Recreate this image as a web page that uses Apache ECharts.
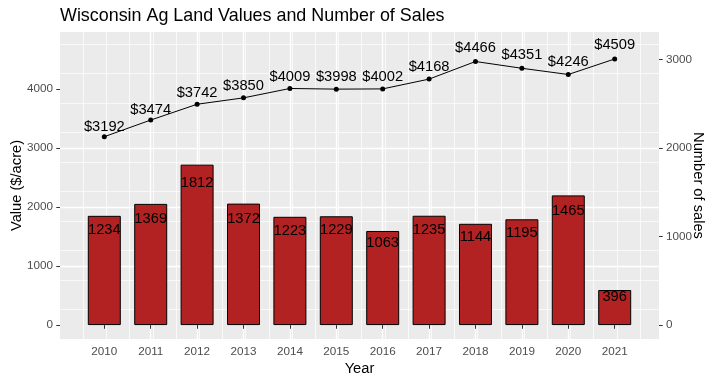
<!DOCTYPE html>
<html><head><meta charset="utf-8">
<script src="https://cdn.jsdelivr.net/npm/echarts@6/dist/echarts.min.js"></script>
<style>html,body{margin:0;padding:0;background:#fff}#c{width:720px;height:384px}</style>
</head><body><div id="c"></div>
<script>
const years = [2010, 2011, 2012, 2013, 2014, 2015, 2016, 2017, 2018, 2019, 2020, 2021];
const valuePerAcre = [3192, 3474, 3742, 3850, 4009, 3998, 4002, 4168, 4466, 4351, 4246, 4509];
const numSales = [1234, 1369, 1812, 1372, 1223, 1229, 1063, 1235, 1144, 1195, 1465, 396];
const leftTicks = [0, 1000, 2000, 3000, 4000];
const rightTicks = [0, 1000, 2000, 3000];

const LMIN = -236, LMAX = 4966, RATIO = 1.5;
const XMIN = 2009.045, XMAX = 2021.955;
const FF = 'Liberation Sans, Arial, sans-serif';

const chart = echarts.init(document.getElementById('c'), null, {renderer: 'canvas'});

const tickStyle = {color: '#333333', width: 1};
const labelStyle = {fontSize: 11.7, color: '#4D4D4D', fontFamily: FF, margin: 7};
const nameStyle = {fontSize: 14.7, color: '#000', fontFamily: FF};
const major = {color: '#ffffff', width: 1.4};
const minor = {color: '#ffffff', width: 0.7};

// label offsets (styling): the source places labels proportionally to the value
const barLabelDist = s => 0.00854 * s - 4.2;
const lineLabelDist = v => 0.00327 * (v - 3192) - 0.7;

chart.setOption({
  animation: false,
  title: {
    text: 'Wisconsin Ag Land Values and Number of Sales',
    left: 60, top: 7, padding: 0,
    textStyle: {fontSize: 17.9, fontWeight: 'normal', color: '#000', fontFamily: FF}
  },
  grid: {left: 60, right: 61, top: 32, bottom: 45, show: true, backgroundColor: '#EBEBEB', borderWidth: 0,
    containLabel: false, outerBoundsMode: 'none'},
  xAxis: [
    {
      type: 'value', min: XMIN, max: XMAX, interval: 1, position: 'bottom',
      name: 'Year', nameLocation: 'middle', nameGap: 22, nameMoveOverlap: false, nameTextStyle: nameStyle,
      axisLine: {show: false},
      axisTick: {show: true, customValues: years, length: 3.7, lineStyle: tickStyle},
      axisLabel: Object.assign({customValues: years, formatter: v => (Math.abs(v - Math.round(v)) < 1e-6 ? String(Math.round(v)) : '')}, labelStyle),
      splitLine: {show: true, showMinLine: false, showMaxLine: false, lineStyle: major}
    },
    {
      type: 'value', min: XMIN, max: XMAX, interval: 0.5, position: 'bottom',
      axisLine: {show: false}, axisTick: {show: false}, axisLabel: {show: false},
      splitLine: {show: true, showMinLine: false, showMaxLine: false, lineStyle: minor}
    }
  ],
  yAxis: [
    {
      type: 'value', position: 'left', min: LMIN, max: LMAX, interval: 1000,
      name: 'Value ($/acre)', nameLocation: 'middle', nameGap: 36, nameMoveOverlap: false, nameRotate: 90, nameTextStyle: nameStyle,
      axisLine: {show: false},
      axisTick: {show: true, customValues: leftTicks, length: 3.7, lineStyle: tickStyle},
      axisLabel: Object.assign({customValues: leftTicks, formatter: v => (v >= 0 && v % 1000 === 0 ? String(v) : '')}, labelStyle),
      splitLine: {show: true, showMinLine: false, showMaxLine: false, lineStyle: major}
    },
    {
      type: 'value', position: 'right', min: LMIN / RATIO, max: LMAX / RATIO, interval: 1000,
      name: 'Number of sales', nameLocation: 'middle', nameGap: 32, nameMoveOverlap: false, nameRotate: -90, nameTextStyle: nameStyle,
      axisLine: {show: false},
      axisTick: {show: true, customValues: rightTicks, length: 3.7, lineStyle: tickStyle},
      axisLabel: Object.assign({customValues: rightTicks, formatter: v => (v >= 0 && v % 1000 === 0 ? String(v) : '')}, labelStyle),
      splitLine: {show: false}
    },
    {
      type: 'value', position: 'left', min: LMIN, max: LMAX, interval: 500,
      axisLine: {show: false}, axisTick: {show: false}, axisLabel: {show: false},
      splitLine: {show: true, showMinLine: false, showMaxLine: false, lineStyle: minor}
    }
  ],
  series: [
    {
      type: 'bar', xAxisIndex: 0, yAxisIndex: 1,
      data: years.map((y, i) => ({value: [y, numSales[i]], label: {distance: barLabelDist(numSales[i])}})),
      barWidth: 33,
      itemStyle: {color: '#B22222', borderColor: '#000', borderWidth: 1},
      label: {show: true, position: 'insideTop', fontSize: 14.7, color: '#000', fontFamily: FF,
        formatter: p => String(p.value[1])},
      z: 2
    },
    {
      type: 'line', xAxisIndex: 0, yAxisIndex: 0,
      data: years.map((y, i) => ({value: [y, valuePerAcre[i]], label: {distance: lineLabelDist(valuePerAcre[i])}})),
      symbol: 'circle', symbolSize: 5,
      itemStyle: {color: '#000'},
      lineStyle: {color: '#000', width: 1},
      label: {show: true, position: 'top', fontSize: 14.7, color: '#000', fontFamily: FF,
        formatter: p => '$' + p.value[1]},
      z: 3
    }
  ]
});
</script>
</body></html>
